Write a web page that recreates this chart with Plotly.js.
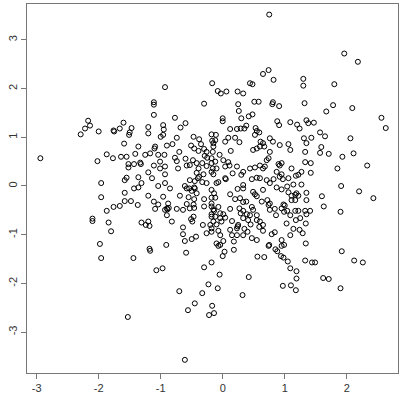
<!DOCTYPE html>
<html>
<head>
<meta charset="utf-8">
<script src="https://cdn.plot.ly/plotly-3.0.1.min.js"></script>
<style>
  html, body { margin: 0; padding: 0; background: #fff; }
  #plot { width: 401px; height: 401px; }
</style>
</head>
<body>
<div id="plot"></div>
<script>
// scatter of (x, y) pairs, grouped by area of the plot
const topPts = [
  [-0.93,2.03],[-0.17,2.11],[-1.11,1.72],[-1.11,1.67],[-0.30,1.69],[-1.11,1.46],[-0.77,1.40],[-1.60,1.30],
  [-0.60,1.29],[-0.96,1.25],[-1.20,1.21],[-0.68,1.20],[-1.47,1.19],[-1.66,1.18],
  [0.75,3.52],[0.74,2.38],[0.65,2.30],[0.82,2.18],[1.30,2.20],[1.30,2.06],[0.44,2.11],[0.48,2.09],
  [-0.08,1.95],[-0.03,1.90],[0.06,1.94],[0.24,1.94],[0.33,1.90],[0.25,1.68],[0.51,1.73],[0.58,1.73],
  [0.81,1.72],[0.80,1.68],[0.91,1.64],[1.32,1.70],[0.26,1.54],[0.48,1.47],[0.42,1.43],[0.00,1.39],
  [0.00,1.33],[0.30,1.39],[0.88,1.33],[1.09,1.31],[0.91,1.25],[1.20,1.26],[1.35,1.35],[0.38,1.24],
  [0.53,1.19],[0.12,1.17],[0.23,1.17],[0.29,1.18],[0.35,1.18],[1.24,1.18],[1.38,1.29],
  [1.96,2.72],[2.18,2.55],[1.80,2.09],[1.78,1.66],[1.67,1.53],[2.09,1.60],[2.56,1.40],[1.47,1.30],[2.63,1.19]
];

const leftPts = [
  [-2.17,1.34],[-2.22,1.18],[-2.14,1.24],[-2.29,1.06],[-2.00,1.12],[-1.76,1.14],[-1.75,1.12],[-2.94,0.57],
  [-2.02,0.51],[-1.87,0.65],[-1.77,0.57],[-1.96,0.06],[-1.96,-0.23],[-1.76,-0.43],[-1.66,-0.41],[-1.87,-0.51],
  [-2.10,-0.67],[-2.10,-0.72],[-1.84,-0.75],[-1.80,-0.93],[-1.98,-1.19],[-1.96,-1.48]
];

const bottomPts = [
  [-1.18,-1.29],[-1.17,-1.33],[-0.91,-1.21],[-0.59,-1.37],[-1.44,-1.48],[-1.07,-1.73],[-0.97,-1.69],[-0.30,-1.67],
  [-0.18,-1.57],[-0.70,-2.16],[-0.33,-2.20],[-0.23,-2.02],[-0.45,-2.41],[-0.56,-2.55],[-0.17,-2.46],[-0.22,-2.65],
  [-0.14,-2.61],[-1.53,-2.69],[-0.61,-3.57],
  [-0.07,-1.23],[0.03,-1.35],[0.00,-1.44],[0.18,-1.31],[0.56,-1.45],[0.67,-1.46],[0.74,-1.23],[0.85,-1.30],
  [0.88,-1.34],[0.95,-1.23],[0.94,-1.44],[0.98,-1.47],[1.05,-1.55],[1.09,-1.69],[1.19,-1.75],[1.33,-1.53],
  [-0.05,-1.82],[0.42,-1.87],[1.19,-1.90],[-0.08,-2.10],[0.97,-2.05],[1.10,-2.04],[1.18,-2.14],[0.32,-2.24],
  [1.92,-1.34],[1.44,-1.57],[1.49,-1.57],[2.12,-1.53],[2.26,-1.57],[1.62,-1.89],[1.71,-1.91],[1.90,-2.10]
];

const rightPts = [
  [1.57,1.10],[1.65,1.02],[1.43,0.99],[2.06,0.98],[1.59,0.80],[1.57,0.68],[1.71,0.66],[1.33,0.70],
  [1.93,0.60],[2.11,0.67],[1.42,0.47],[1.85,0.36],[2.33,0.42],[1.42,0.27],[1.91,0.00],[1.60,-0.21],
  [2.20,-0.11],[2.43,-0.25],[1.63,-0.42],[1.41,-0.51],[1.90,-0.53]
];

const centreLeftPts = [
  [-1.50,1.10],[-1.51,1.05],[-1.20,1.08],[-0.95,1.16],[-1.00,1.01],[-0.96,1.05],[-0.74,0.99],[-0.47,1.01],
  [-0.38,0.96],[-0.18,1.06],[-0.17,0.93],[-1.59,0.87],[-1.36,0.81],[-1.09,0.81],[-1.10,0.77],[-0.90,0.83],
  [-0.81,0.86],[-0.51,0.83],[-0.46,0.77],[-0.35,0.86],[-0.30,0.76],[-0.26,0.70],[-0.39,0.72],[-0.29,0.62],
  [-0.25,0.58],[-0.15,0.81],[-0.16,0.70],[-0.70,0.70],[-1.64,0.60],[-1.55,0.60],[-1.41,0.66],[-1.25,0.64],
  [-1.17,0.67],[-1.04,0.64],[-0.94,0.64],[-0.77,0.58],[-0.74,0.51],[-0.60,0.56],[-0.48,0.53],[-1.52,0.45],
  [-1.52,0.38],[-1.43,0.45],[-1.33,0.48],[-1.32,0.45],[-1.11,0.42],[-1.01,0.50],[-1.01,0.36],[-0.93,0.40],
  [-0.72,0.36],[-0.58,0.42],[-0.53,0.43],[-0.42,0.47],[-0.33,0.47],[-0.39,0.36],[-0.26,0.41],[-0.18,0.47],
  [-1.20,0.28],[-0.93,0.24],[-0.42,0.27],[-0.38,0.19],[-0.40,0.16],[-0.31,0.24],[-0.18,0.29],[-0.15,0.24],
  [-1.55,0.17],[-1.58,0.12],[-1.36,0.18],[-1.14,0.16],[-0.53,0.12],[-0.45,0.10],[-0.33,0.08],[-0.26,0.06],
  [-1.31,0.06],[-1.04,0.00],[-0.93,0.06],[-0.61,0.00],[-0.58,-0.05],[-0.54,-0.05],[-0.46,-0.03],[-0.45,-0.05],
  [-1.43,-0.05],[-1.36,-0.03],[-0.85,-0.05],[-0.50,-0.10],[-0.42,-0.15],[-1.58,-0.14],[-0.18,-0.08],[-1.20,-0.20],
  [-0.96,-0.22],[-0.69,-0.20],[-0.55,-0.23],[-0.46,-0.27],[-0.30,-0.27],[-0.18,-0.24],[-1.58,-0.31],[-1.48,-0.31],
  [-1.11,-0.32],[-1.04,-0.38],[-0.88,-0.36],[-0.58,-0.37],[-0.47,-0.38],[-0.18,-0.36],[-1.37,-0.39],[-0.90,-0.46],
  [-0.87,-0.45],[-0.89,-0.48],[-0.93,-0.49],[-1.09,-0.47],[-0.74,-0.47],[-0.64,-0.49],[-0.53,-0.46],[-0.46,-0.45],
  [-0.30,-0.42],[-0.18,-0.42],[-0.15,-0.48],[-0.90,-0.60],[-0.47,-0.63],[-0.51,-0.68],[-0.49,-0.73],[-0.18,-0.63],
  [-1.31,-0.75],[-1.24,-0.80],[-1.20,-0.73],[-1.18,-0.82],[-0.82,-0.73],[-0.64,-0.85],[-0.32,-0.80],[-0.20,-0.80],
  [-0.26,-0.97],[-0.18,-0.94],[-0.64,-0.99],[-0.43,-1.04],[-0.50,-1.09],[-0.61,-1.13]
];

const centreRightPts = [
  [-0.11,1.05],[-0.12,0.94],[-0.15,0.88],[0.55,1.13],[0.59,1.10],[0.09,0.99],[0.04,0.91],[0.20,0.99],
  [0.27,0.90],[0.52,1.05],[0.76,0.98],[0.81,0.91],[0.61,0.91],[0.65,0.88],[0.60,0.81],[0.55,0.77],
  [0.49,0.74],[0.67,0.81],[0.92,0.84],[1.06,0.86],[1.09,0.74],[1.31,0.98],[1.35,0.88],[0.13,0.72],
  [0.76,0.70],[0.74,0.57],[0.71,0.53],[-0.05,0.64],[-0.18,0.57],[-0.12,0.50],[-0.16,0.36],[-0.10,0.36],
  [0.01,0.53],[0.09,0.49],[0.11,0.42],[0.04,0.40],[0.23,0.40],[0.16,0.26],[0.33,0.29],[0.30,0.23],
  [0.44,0.36],[0.52,0.38],[0.60,0.42],[0.65,0.36],[0.68,0.40],[0.90,0.45],[0.92,0.42],[0.95,0.47],
  [1.11,0.36],[1.33,0.49],[0.87,0.29],[0.95,0.24],[0.92,0.19],[0.97,0.14],[1.27,0.29],[1.18,0.21],
  [1.22,0.23],[-0.07,0.08],[-0.10,0.06],[0.04,0.16],[0.05,0.14],[0.47,0.14],[0.55,0.17],[0.60,0.16],
  [0.71,0.12],[0.82,0.14],[0.76,0.06],[0.33,0.02],[1.06,0.16],[1.14,0.03],[1.04,-0.01],[1.27,0.03],
  [-0.14,-0.15],[0.24,-0.06],[0.33,-0.05],[0.49,-0.12],[0.52,-0.17],[0.55,-0.21],[0.65,-0.08],[0.87,-0.03],
  [0.95,-0.07],[1.06,-0.13],[1.11,-0.20],[1.17,-0.18],[1.19,-0.15],[1.22,-0.20],[1.35,-0.14],[-0.12,-0.24],
  [0.12,-0.17],[0.20,-0.27],[0.28,-0.25],[0.33,-0.33],[0.38,-0.32],[0.63,-0.32],[0.72,-0.29],[0.76,-0.36],
  [0.74,-0.39],[0.98,-0.38],[1.00,-0.40],[1.11,-0.29],[1.17,-0.29],[1.35,-0.29],[-0.07,-0.43],[-0.14,-0.51],
  [0.12,-0.47],[0.27,-0.46],[0.33,-0.51],[0.47,-0.43],[0.49,-0.49],[0.76,-0.49],[0.84,-0.47],[0.95,-0.46],
  [1.04,-0.51],[1.22,-0.51],[1.33,-0.51],[-0.18,-0.58],[-0.12,-0.63],[-0.15,-0.73],[-0.10,-0.79],[-0.02,-0.73],
  [0.01,-0.58],[0.04,-0.65],[-0.04,-0.66],[-0.04,-0.56],[0.15,-0.72],[0.29,-0.56],[0.39,-0.58],[0.44,-0.60],
  [0.33,-0.66],[0.41,-0.70],[0.45,-0.79],[0.25,-0.80],[0.23,-0.87],[0.24,-0.83],[0.55,-0.60],[0.60,-0.73],
  [0.65,-0.80],[0.55,-0.70],[0.86,-0.60],[0.99,-0.53],[1.09,-0.60],[1.17,-0.51],[1.03,-0.77],[1.18,-0.70],
  [1.25,-0.66],[1.35,-0.58],[1.34,-0.77],[-0.18,-0.87],[-0.07,-0.92],[-0.04,-1.01],[0.12,-0.90],[0.15,-1.01],
  [0.23,-1.01],[0.35,-0.88],[0.40,-0.94],[0.33,-1.01],[0.59,-0.84],[0.65,-0.92],[0.79,-0.99],[0.84,-0.95],
  [1.09,-1.01],[1.14,-0.88],[1.24,-0.90],[1.29,-0.97],[0.01,-1.13],[-0.04,-1.21],[-0.10,-1.18],[0.18,-1.14],
  [0.47,-1.07],[0.55,-1.11],[0.75,-1.21],[0.95,-1.11],[0.99,-1.21],[1.34,-1.18]
];

const xTicks = [-3, -2, -1, 0, 1, 2];
const yTicks = [-3, -2, -1, 0, 1, 2, 3];

const allPts = [].concat(topPts, leftPts, bottomPts, rightPts, centreLeftPts, centreRightPts);

const trace = {
  x: allPts.map(p => p[0]),
  y: allPts.map(p => p[1]),
  type: 'scatter',
  mode: 'markers',
  marker: { symbol: 'circle-open', size: 5, color: '#000', line: { width: 1, color: '#000' } },
  hoverinfo: 'none'
};

const axisCommon = {
  showgrid: false,
  zeroline: false,
  showline: true,
  mirror: true,
  linecolor: '#777',
  linewidth: 1,
  ticks: 'outside',
  ticklen: 5,
  tickwidth: 1,
  tickcolor: '#777',
  tickfont: { family: 'Liberation Sans, Arial, sans-serif', size: 11, color: '#333' }
};

const layout = {
  width: 401,
  height: 401,
  margin: { l: 27, r: 3, t: 4, b: 28 },
  paper_bgcolor: '#fff',
  plot_bgcolor: '#fff',
  showlegend: false,
  xaxis: Object.assign({}, axisCommon, {
    range: [-3.156, 2.827],
    tickvals: xTicks,
    ticktext: xTicks.map(String)
  }),
  yaxis: Object.assign({}, axisCommon, {
    range: [-3.84, 3.737],
    tickvals: yTicks,
    ticktext: yTicks.map(String),
    tickangle: -90
  })
};

Plotly.newPlot('plot', [trace], layout, { staticPlot: true, displayModeBar: false });
</script>
</body>
</html>
